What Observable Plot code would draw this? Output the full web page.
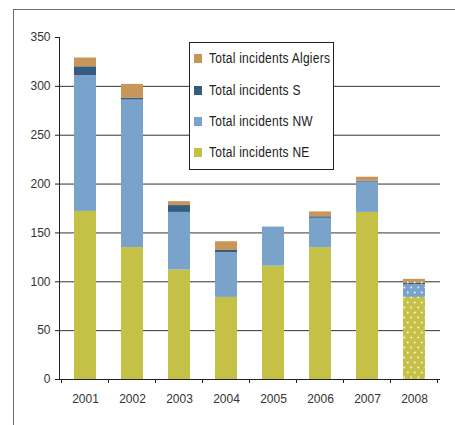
<!DOCTYPE html>
<html>
<head>
<meta charset="utf-8">
<script src="https://cdn.jsdelivr.net/npm/d3@7"></script>
<script src="https://cdn.jsdelivr.net/npm/@observablehq/plot@0.6"></script>
<style>
  html, body { margin: 0; padding: 0; background: #fff; }
  #wrap { position: relative; width: 455px; height: 425px; overflow: hidden; font-family: "Liberation Sans", Arial, sans-serif; }
  #frame { position: absolute; left: 13px; top: 9px; width: 460px; height: 430px; border-top: 1.5px solid #6f6f6f; border-left: 1.5px solid #6f6f6f; pointer-events: none; }
  #legend { position: absolute; left: 189px; top: 42px; width: 145px; height: 128px; background: #fff; border: 1px solid #222; box-sizing: border-box; }
  .item { position: absolute; left: 4px; height: 16px; display: flex; align-items: center; font-size: 12px; letter-spacing: 0.25px; color: #222; white-space: nowrap; }
  .item .txt { display: inline-block; transform: scaleY(1.15); }
  .sw { width: 8px; height: 9px; margin-right: 7px; flex: none; }
</style>
</head>
<body>
<div id="wrap">
  <div id="chart"></div>
  <div id="frame"></div>
  <div id="legend"></div>
</div>
<script>
// ---- data ----
const years = ["2001", "2002", "2003", "2004", "2005", "2006", "2007", "2008"];
const incidentsNE = [172, 135, 112, 84, 116, 135, 171, 84];
const incidentsNW = [139, 151, 59, 46, 40, 30, 31, 13];
const incidentsS = [9, 2, 7, 2, 0, 1.5, 1, 1.5];
const incidentsAlgiers = [9, 14, 4, 9, 0, 5, 4, 4];
const seriesNames = ["Total incidents NE", "Total incidents NW", "Total incidents S", "Total incidents Algiers"];
const seriesColors = ["#c5c147", "#7aa3cb", "#355b7e", "#c8955a"];
const patternYear = "2008"; // drawn with a dotted fill
const yTicks = [0, 50, 100, 150, 200, 250, 300, 350];
const gridTicks = [50, 100, 150, 200, 250, 300];

const seriesValues = [incidentsNE, incidentsNW, incidentsS, incidentsAlgiers];
const rows = [];
seriesNames.forEach((name, si) => {
  years.forEach((yr, yi) => rows.push({ series: name, year: yr, value: seriesValues[si][yi] }));
});
const patternIds = seriesNames.map((_, i) => "dots" + i);
const colorDomain = [...seriesNames, ...seriesNames.map(n => n + "*")];
const colorRange = [...seriesColors, ...patternIds.map(id => `url(#${id})`)];

// tick marks at band boundaries, derived from the x scale
function boundaryTicks(index, scales, values, dimensions) {
  const x = scales.x;
  const bw = x.bandwidth ? x.bandwidth() : 0;
  const step = x(years[1]) - x(years[0]);
  const y0 = scales.y(0);
  const g = d3.create("svg:g").attr("stroke", "#222").attr("stroke-width", 1);
  const pos = years.map(yr => x(yr) + bw / 2 - step / 2);
  pos.push(x(years[years.length - 1]) + bw / 2 + step / 2);
  pos.forEach(px => g.append("line").attr("x1", px).attr("x2", px).attr("y1", y0).attr("y2", y0 + 4));
  return g.node();
}

const chart = Plot.plot({
  width: 455,
  height: 425,
  marginLeft: 59,
  marginRight: 15,
  marginTop: 37,
  marginBottom: 46,
  style: { fontFamily: "Liberation Sans, Arial, sans-serif", fontSize: "12px", color: "#333", background: "transparent" },
  x: { domain: years, paddingInner: 0.54, paddingOuter: 0.27, label: null },
  y: { domain: [0, 350], label: null },
  color: { domain: colorDomain, range: colorRange },
  marks: [
    Plot.gridY(gridTicks, { stroke: "#333", strokeOpacity: 1, strokeWidth: 1 }),
    Plot.barY(rows, {
      x: "year",
      y: "value",
      fill: d => d.year === patternYear ? d.series + "*" : d.series,
      order: seriesNames
    }),
    Plot.axisY({ ticks: yTicks, tickSize: 4, tickPadding: 5, label: null, fill: "#333", stroke: "#222" }),
    Plot.axisX({ tickSize: 0, tickPadding: 15, label: null, fill: "#333" }),
    Plot.frame({ anchor: "left", stroke: "#222" }),
    Plot.ruleY([0], { stroke: "#222" }),
    boundaryTicks
  ]
});

// dotted patterns for the last year
const svg = d3.select(chart.tagName.toLowerCase() === "svg" ? chart : chart.querySelector("svg"));
const defs = svg.insert("defs", ":first-child");
seriesColors.forEach((c, i) => {
  const p = defs.append("pattern").attr("id", patternIds[i])
    .attr("patternUnits", "userSpaceOnUse").attr("width", 7).attr("height", 10);
  p.append("rect").attr("width", 7).attr("height", 10).attr("fill", c);
  p.append("circle").attr("cx", 1.75).attr("cy", 2.5).attr("r", 0.95).attr("fill", "#fff").attr("fill-opacity", 0.85);
  p.append("circle").attr("cx", 5.25).attr("cy", 7.5).attr("r", 0.95).attr("fill", "#fff").attr("fill-opacity", 0.85);
});

document.getElementById("chart").appendChild(chart);

// legend (in the order of the reference, top series first)
const legend = document.getElementById("legend");
const legendTops = [7, 39, 70, 101];
[3, 2, 1, 0].forEach((si, k) => {
  const it = document.createElement("div");
  it.className = "item";
  it.style.top = legendTops[k] + "px";
  it.innerHTML = `<span class="sw" style="background:${seriesColors[si]}"></span><span class="txt">${seriesNames[si]}</span>`;
  legend.appendChild(it);
});
</script>
</body>
</html>
